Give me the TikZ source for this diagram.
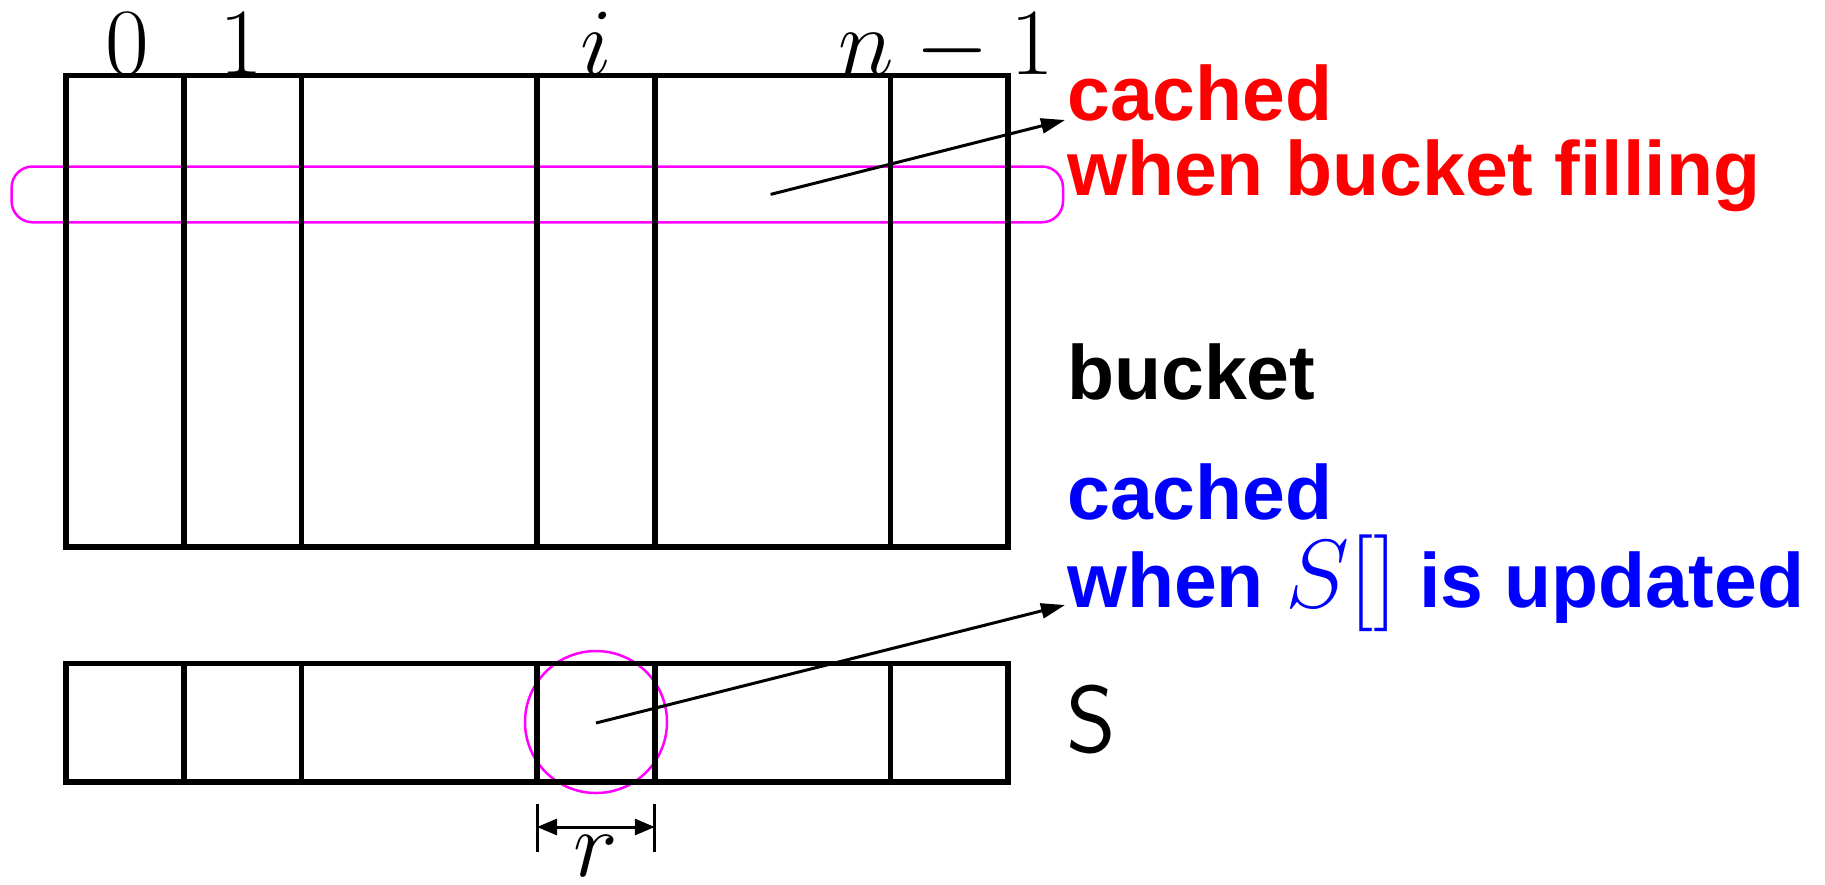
\RequirePackage{fix-cm}
\documentclass[tikz,border=0pt]{standalone}
\usepackage{fontspec}
\newfontfamily\hv{Liberation Sans}
\usetikzlibrary{arrows.meta}
\definecolor{mag}{RGB}{255,0,255}
\definecolor{pred}{RGB}{255,0,0}
\definecolor{pblue}{RGB}{0,0,255}
\begin{document}
\begin{tikzpicture}[x=1pt,y=-1pt,
  grid/.style={line width=5.5pt},
  hl/.style={draw=mag, line width=2.5pt},
  ptr/.style={line width=3pt, -{Triangle[length=24pt,width=15pt]}},
  dimarr/.style={line width=3pt, {Triangle[length=20pt,width=16pt]}-{Triangle[length=20pt,width=16pt]}},
  idx/.style={inner sep=0pt, anchor=base, font=\fontsize{95}{95}\selectfont},
  txt/.style={inner sep=0pt, font=\hv\bfseries\fontsize{77}{75}\selectfont, align=left, anchor=north west}]
\useasboundingbox (0,0) rectangle (1825,884);
% highlights
\draw[hl, rounded corners=21pt] (11.6,166.5) rectangle (1063,222.3);
\draw[hl] (596,722) circle (71);
% bucket array
\draw[grid] (66,75.7) rectangle (1008,547);
\foreach \x in {183.75,301.5,537,654.75,890.25}
  \draw[grid] (\x,75.7) -- (\x,547);
% S array
\draw[grid] (66,663.5) rectangle (1008,782);
\foreach \x in {183.75,301.5,537,654.75,890.25}
  \draw[grid] (\x,663.5) -- (\x,782);
% index labels
\node[idx] (l0) at (127,74) {$0$};
\node[idx] (l1) at (241,74) {$1$};
\node[idx] (li) at (596,74) {$i$};
\node[idx] (ln) at (946,74) {$n-1$};
% texts
\node[txt, text=pred] (red) at (1067,64.5) {cached\\when bucket filling};
\node[inner sep=0pt, anchor=base west, font=\hv\bfseries\fontsize{77}{75}\selectfont] (bucket) at (1067,399) {bucket};
\node[txt, text=pblue, font=\hv\bfseries\fontsize{77}{88}\selectfont] (blue) at (1067,463) {cached\\when {\fontsize{97}{97}\selectfont$S[]$} is updated};
\node[inner sep=0pt, anchor=base west, font=\sffamily\fontsize{95}{95}\selectfont] (slbl) at (1066,752) {S};
% arrows
\coordinate (c1) at (770.6,194.4);
\coordinate (t1) at (1065,120);
\coordinate (c2) at (596,723);
\coordinate (t2) at (1065,605);
\draw[ptr] (c1) -- (t1);
\draw[ptr] (c2) -- (t2);
% r dimension
\coordinate (ra) at (537,804);
\coordinate (rb) at (654.75,804);
\draw[line width=3pt] (ra) -- ++(0,48);
\draw[line width=3pt] (rb) -- ++(0,48);
\draw[dimarr] (537,827) -- (654.75,827);
\node[idx] (r) at (596,876) {$r$};
\end{tikzpicture}
\end{document}
